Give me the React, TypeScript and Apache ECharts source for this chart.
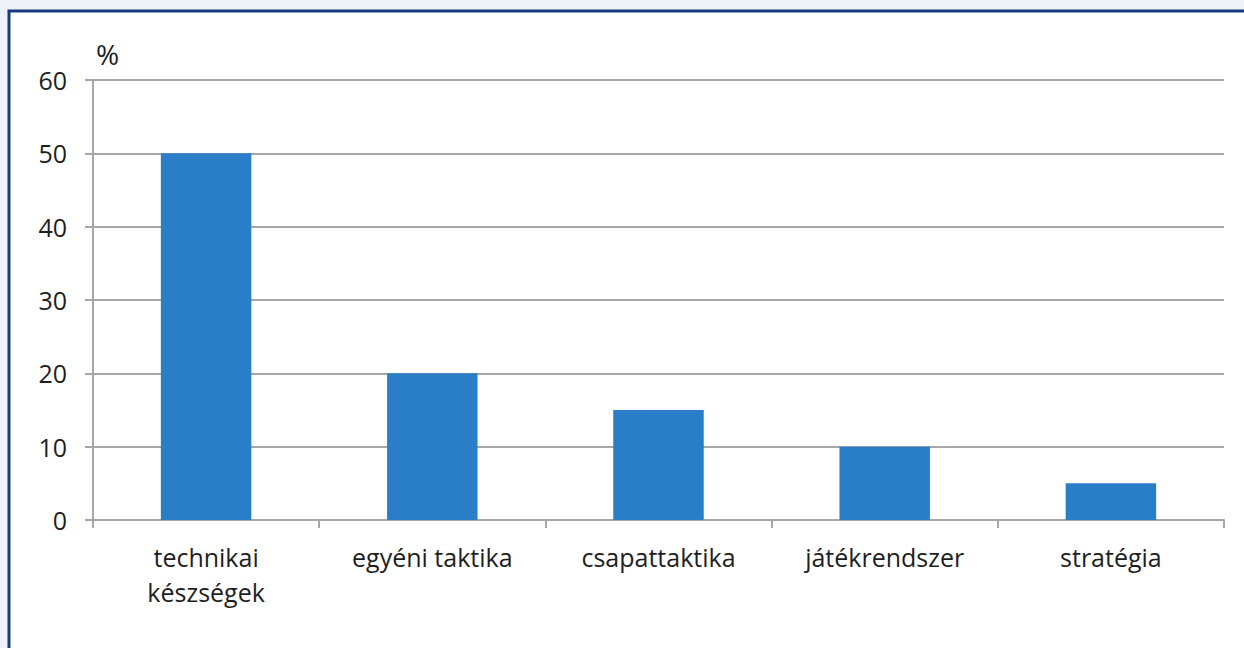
import React, { useEffect, useRef } from "react";
import * as echarts from "echarts";

const categories = ["technikai\nkészségek", "egyéni taktika", "csapattaktika", "játékrendszer", "stratégia"];
const values = [50, 20, 15, 10, 5];
const yTicks = { min: 0, max: 60, interval: 10 };
const unitLabel = "%";

export default function App() {
  const ref = useRef<HTMLDivElement>(null);
  useEffect(() => {
    if (!ref.current) return;
    const chart = echarts.init(ref.current, undefined, { renderer: "svg" });
    const font = "'Open Sans', 'Noto Sans', sans-serif";
    chart.setOption({
      animation: false,
      backgroundColor: "#eef1f7",
      graphic: [
        {
          type: "rect",
          z: -10,
          silent: true,
          shape: { x: 9, y: 11, width: 1300, height: 700 },
          style: { fill: "#ffffff", stroke: "#1b3a7d", lineWidth: 3 },
        },
      ],
      grid: { left: 93, right: 20, top: 80, bottom: 128, containLabel: false },
      xAxis: {
        type: "category",
        data: categories,
        axisLine: { show: true, lineStyle: { color: "#a6a6a6", width: 2 } },
        axisTick: { show: true, alignWithLabel: false, length: 8, lineStyle: { color: "#a6a6a6", width: 2 } },
        axisLabel: {
          color: "#1e1e1e",
          fontSize: 25,
          fontFamily: font,
          margin: 19,
          lineHeight: 35,
          interval: 0,
        },
      },
      yAxis: {
        type: "value",
        min: yTicks.min,
        max: yTicks.max,
        interval: yTicks.interval,
        name: unitLabel,
        nameLocation: "end",
        nameGap: 12,
        nameTextStyle: { color: "#1e1e1e", fontSize: 28, fontFamily: font, align: "left", padding: [0, 0, 0, 3] },
        axisLine: { show: true, lineStyle: { color: "#a6a6a6", width: 2 } },
        axisTick: { show: true, length: 8, lineStyle: { color: "#a6a6a6", width: 2 } },
        splitLine: { show: true, lineStyle: { color: "#a6a6a6", width: 2 } },
        axisLabel: { color: "#1e1e1e", fontSize: 25, fontFamily: font, margin: 26 },
      },
      series: [
        {
          type: "bar",
          data: values,
          barWidth: "40%",
          itemStyle: { color: "#2a7ec8" },
        },
      ],
    });
    return () => chart.dispose();
  }, []);
  return (
    <div style={{ position: "fixed", left: 0, top: 0, width: 1244, height: 648 }}>
      <div ref={ref} style={{ width: 1244, height: 648 }} />
    </div>
  );
}
